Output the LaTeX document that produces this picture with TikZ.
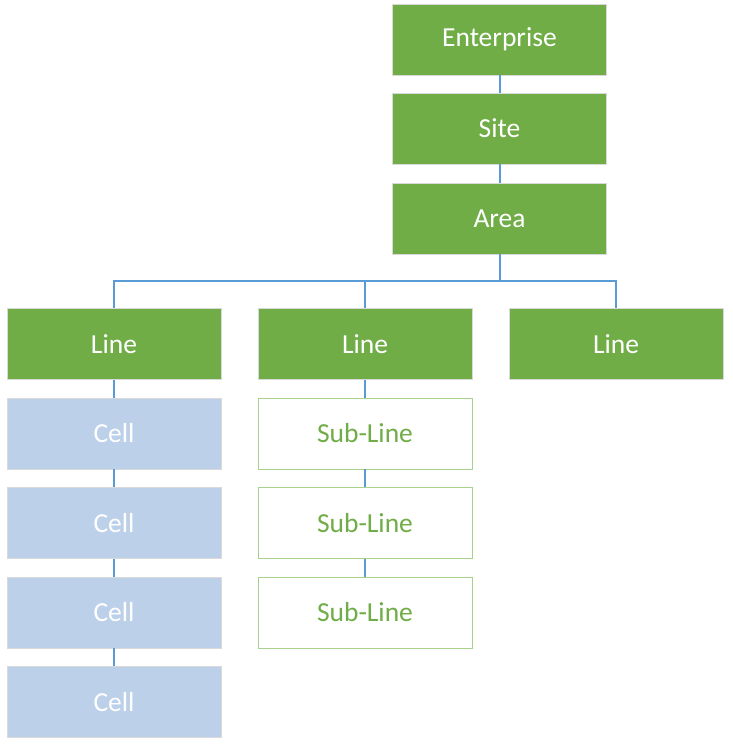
\documentclass[tikz,border=0pt]{standalone}
\usepackage{fontspec}
\setmainfont{Carlito}
\definecolor{boxgreen}{HTML}{70AD47}
\definecolor{cellblue}{HTML}{BDD0E9}
\definecolor{wireblue}{HTML}{5B9BD5}
\definecolor{subgreen}{HTML}{A9D18E}

\begin{document}
\begin{tikzpicture}[x=1pt, y=-1pt,
		level/.style={minimum width=214pt, minimum height=71pt, inner sep=0pt, fill=boxgreen, draw=black!15, text=white, font=\fontsize{27.5}{33}\selectfont},
		cell/.style={level, fill=cellblue},
		subline/.style={level, fill=white, draw=subgreen, text=boxgreen},
		wire/.style={draw=wireblue, line width=2pt}]
		\useasboundingbox (0,0) rectangle (732,750);
		
		\node[level] (ent) at (499.5,39.5) {Enterprise};
		\node[level] (site) at (499.5,128.5) {Site};
		\node[level] (area) at (499.5,218.5) {Area};
		
		\node[level] (line1) at (114,344) {Line};
		\node[level] (line2) at (365,344) {Line};
		\node[level] (line3) at (616,344) {Line};
		
		\node[cell] (cell1) at (114,433.5) {Cell};
		\node[cell] (cell2) at (114,523) {Cell};
		\node[cell] (cell3) at (114,612.5) {Cell};
		\node[cell] (cell4) at (114,702) {Cell};
		
		\node[subline] (sub1) at (365,433.5) {Sub-Line};
		\node[subline] (sub2) at (365,523) {Sub-Line};
		\node[subline] (sub3) at (365,612.5) {Sub-Line};
		
		\coordinate (bus) at (499.5,281);
		
		\path[wire]
		(ent) -- (site)
		(site) -- (area)
		(area) -- (bus)
		(bus) -| (line1)
		(bus) -| (line2)
		(bus) -| (line3)
		(line1) -- (cell1)
		(cell1) -- (cell2)
		(cell2) -- (cell3)
		(cell3) -- (cell4)
		(line2) -- (sub1)
		(sub1) -- (sub2)
		(sub2) -- (sub3);
		
	\end{tikzpicture}
\end{document}
